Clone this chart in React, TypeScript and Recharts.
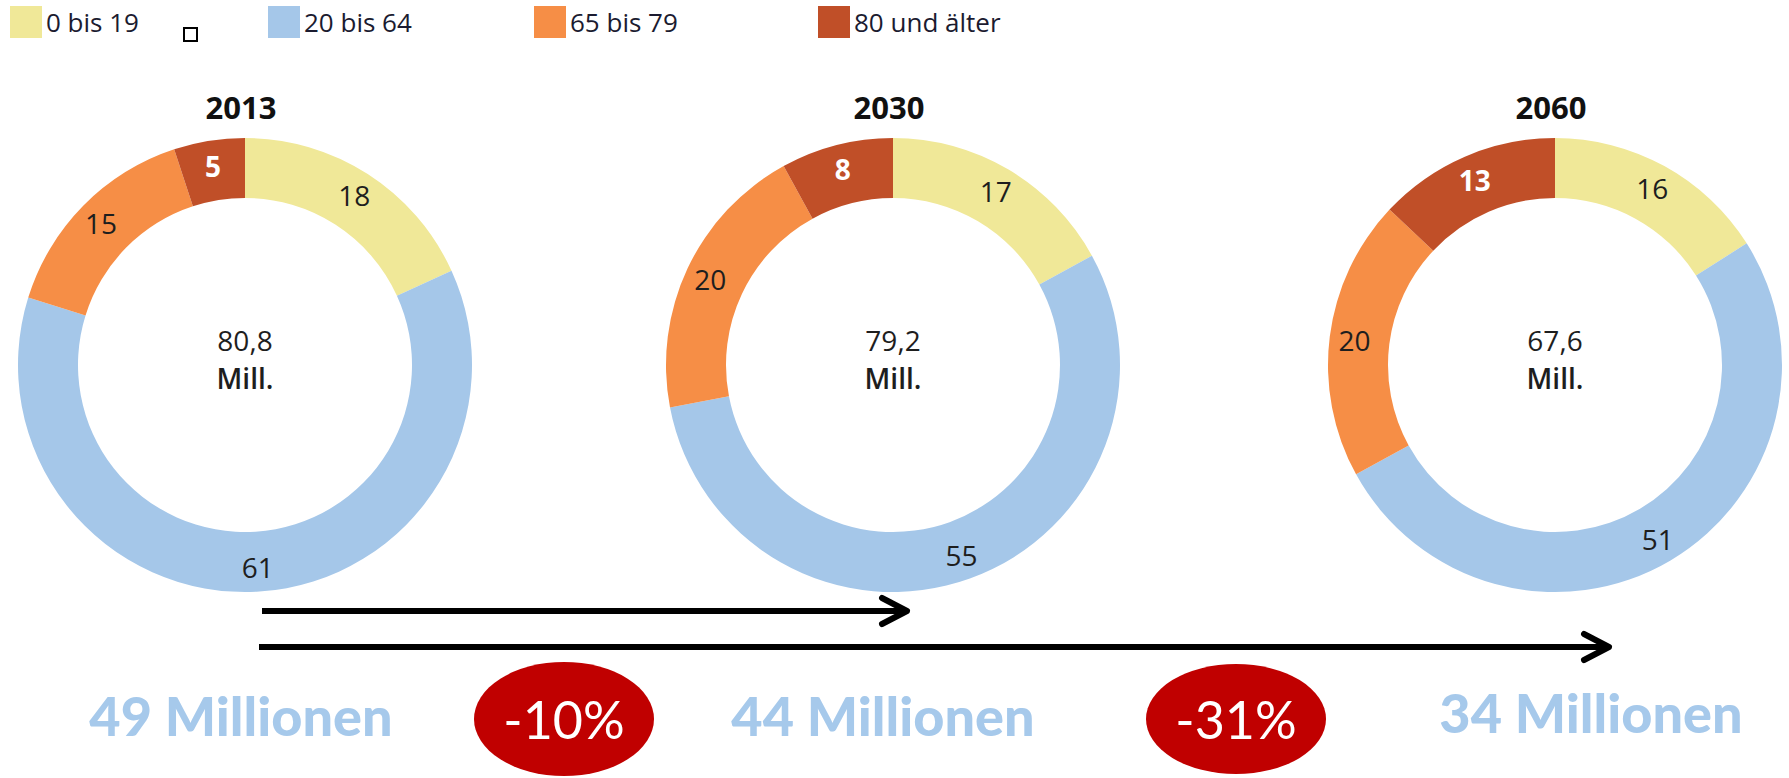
import React from 'react';
import { PieChart, Pie, Cell, Customized } from 'recharts';

// ---- data ----
const ageGroups = ['0 bis 19', '20 bis 64', '65 bis 79', '80 und älter'];
const years = ['2013', '2030', '2060'];
const shares2013 = [18, 61, 15, 5];
const shares2030 = [17, 55, 20, 8];
const shares2060 = [16, 51, 20, 13];
const totalsMill = ['80,8', '79,2', '67,6'];
const workingAgeMill = [49, 44, 34];
const changesPct = [-10, -31];

// ---- styles / layout ----
const COLORS = ['#f0e898', '#a5c7e9', '#f68e46', '#c04f28'];
const LABEL_COLORS = ['#1e1e1e', '#1e1e1e', '#1e1e1e', '#ffffff'];
const W = 1789;
const H = 778;
const centersX = [245, 893, 1555];
const CY = 365;
const INNER = 167;
const OUTER = 227;
const RAD = Math.PI / 180;
const SANS = '"Open Sans", "Noto Sans", sans-serif';

const makeData = (shares: number[]) => ageGroups.map((name, i) => ({ name, value: shares[i] }));
const pieData = [makeData(shares2013), makeData(shares2030), makeData(shares2060)];

const renderLabel = (props: any) => {
  const { cx, cy, midAngle, index, value } = props;
  const r = 202;
  const x = cx + r * Math.cos(-midAngle * RAD);
  const y = cy + r * Math.sin(-midAngle * RAD);
  const last = index === 3;
  return (
    <text
      x={x}
      y={y}
      textAnchor="middle"
      dominantBaseline="central"
      fill={LABEL_COLORS[index]}
      fontFamily={SANS}
      fontSize={28}
      fontWeight={last ? 700 : 400}
    >
      {value}
    </text>
  );
};

const legendX = [10, 268, 534, 818];

const Overlay = () => (
  <g>
    {/* legend */}
    {ageGroups.map((g, i) => (
      <g key={g}>
        <rect x={legendX[i]} y={6} width={32} height={32} fill={COLORS[i]} />
        <text x={legendX[i] + 36} y={32} fontFamily={SANS} fontSize={26} fill="#1b1b30">
          {g}
        </text>
      </g>
    ))}
    <rect x={184} y={28} width={13} height={13} fill="#fff" stroke="#000" strokeWidth={2} />

    {/* titles and totals */}
    {years.map((y, i) => (
      <g key={y}>
        <text x={centersX[i] - 4} y={119} textAnchor="middle" fontFamily={SANS} fontSize={31} fontWeight={700} fill="#111">
          {y}
        </text>
        <text x={centersX[i]} y={351} textAnchor="middle" fontFamily={SANS} fontSize={28} fill="#1e1e1e">
          {totalsMill[i]}
        </text>
        <text x={centersX[i]} y={389} textAnchor="middle" fontFamily={SANS} fontSize={28} fontWeight={600} fill="#1e1e1e">
          Mill.
        </text>
      </g>
    ))}

    {/* arrows */}
    <line x1={262} y1={611} x2={905} y2={611} stroke="#000" strokeWidth={6} />
    <polyline points="882,598 907,611 882,624" fill="none" stroke="#000" strokeWidth={6} strokeLinecap="round" strokeLinejoin="round" />
    <line x1={259} y1={647} x2={1607} y2={647} stroke="#000" strokeWidth={6} />
    <polyline points="1584,634 1609,647 1584,660" fill="none" stroke="#000" strokeWidth={6} strokeLinecap="round" strokeLinejoin="round" />

    {/* working-age population */}
    {workingAgeMill.map((v, i) => (
      <text
        key={i}
        x={[241, 883, 1591][i]}
        y={[736, 736, 733][i]}
        textAnchor="middle"
        fontFamily='Lato, "Open Sans", sans-serif'
        fontSize={54}
        fontWeight={900}
        fill="#a6c9eb"
      >
        {`${v} Millionen`}
      </text>
    ))}

    {/* change bubbles */}
    {changesPct.map((c, i) => (
      <g key={i}>
        <ellipse cx={[564, 1236][i]} cy={[719, 719][i]} rx={90} ry={[57, 55][i]} fill="#c00000" />
        <text
          x={[564, 1236][i]}
          y={739}
          textAnchor="middle"
          fontFamily='Lato, "Open Sans", sans-serif'
          fontSize={52}
          fill="#ffffff"
        >
          {`${c}%`}
        </text>
      </g>
    ))}
  </g>
);

export default function App() {
  return (
    <div style={{ position: 'absolute', left: 0, top: 0, width: W, height: H, background: '#fff' }}>
      <PieChart width={W} height={H} margin={{ top: 0, right: 0, bottom: 0, left: 0 }}>
        {pieData.map((data, p) => (
          <Pie
            key={years[p]}
            data={data}
            dataKey="value"
            nameKey="name"
            cx={centersX[p]}
            cy={CY}
            innerRadius={INNER}
            outerRadius={OUTER}
            startAngle={90}
            endAngle={-270}
            stroke="none"
            label={renderLabel}
            labelLine={false}
            isAnimationActive={false}
          >
            {data.map((d, i) => (
              <Cell key={d.name} fill={COLORS[i]} />
            ))}
          </Pie>
        ))}
        <Customized component={<Overlay />} />
      </PieChart>
    </div>
  );
}
